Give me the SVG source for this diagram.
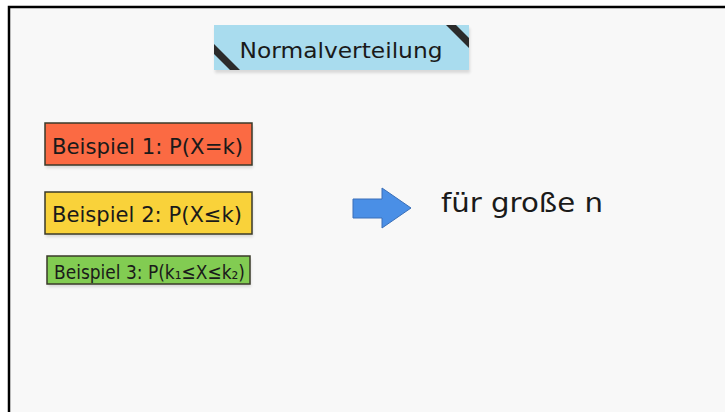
<svg xmlns="http://www.w3.org/2000/svg" width="725" height="412" viewBox="0 0 725 412">
  <defs>
    <filter id="soft" x="-10%" y="-30%" width="120%" height="160%">
      <feGaussianBlur stdDeviation="1.5"/>
    </filter>
  </defs>
  <style>
    .hand { font-family: "DejaVu Sans", "Liberation Sans", sans-serif; fill: #1a1a1a; }
    .card { stroke: #3a3a2a; stroke-width: 1.5; }
    .shadow { fill: #000; opacity: 0.12; filter: url(#soft); }
  </style>

  <!-- board -->
  <rect x="0" y="0" width="725" height="412" fill="#ffffff"/>
  <rect x="9" y="7" width="716" height="405" fill="#f8f8f8"/>
  <path d="M9 412 V7 H725" fill="none" stroke="#000" stroke-width="2.5"/>

  <!-- title note -->
  <g id="title">
    <rect class="shadow" x="215" y="28" width="255" height="45"/>
    <rect x="214" y="25" width="255" height="45" fill="#a9dcee"/>
    <path d="M214 44 L240 70 L230 70 L214 54 Z" fill="#2b2b2b"/>
    <path d="M446 25 L469 48 L469 38 L456 25 Z" fill="#2b2b2b"/>
    <text class="hand" x="341" y="58" font-size="22" text-anchor="middle" textLength="203" lengthAdjust="spacingAndGlyphs">Normalverteilung</text>
  </g>

  <!-- example 1 -->
  <g id="beispiel1">
    <rect class="shadow" x="46" y="126" width="207" height="42"/>
    <rect class="card" x="45" y="123" width="207" height="42" fill="#fb6a43"/>
    <text class="hand" x="52" y="154" font-size="21" textLength="191" lengthAdjust="spacingAndGlyphs">Beispiel 1: P(X=k)</text>
  </g>

  <!-- example 2 -->
  <g id="beispiel2">
    <rect class="shadow" x="46" y="195" width="207" height="42"/>
    <rect class="card" x="45" y="192" width="207" height="42" fill="#f9d23a"/>
    <text class="hand" x="52" y="222" font-size="21" textLength="190" lengthAdjust="spacingAndGlyphs">Beispiel 2: P(X≤k)</text>
  </g>

  <!-- example 3 -->
  <g id="beispiel3">
    <rect class="shadow" x="48" y="259" width="203" height="28"/>
    <rect class="card" x="47" y="256" width="203" height="28" fill="#82cc52"/>
    <text class="hand" x="54" y="279" font-size="20" textLength="191" lengthAdjust="spacingAndGlyphs">Beispiel 3: P(k₁≤X≤k₂)</text>
  </g>

  <!-- arrow -->
  <g id="connectors">
    <path d="M353 199 H382 V188 L411 208 L382 228 V218 H353 Z" fill="#4a8fe6" stroke="#3a6fb8" stroke-width="1"/>
  </g>

  <!-- result -->
  <g id="ergebnis">
    <text class="hand" x="441" y="212" font-size="27" textLength="162" lengthAdjust="spacingAndGlyphs">für große n</text>
  </g>
</svg>
